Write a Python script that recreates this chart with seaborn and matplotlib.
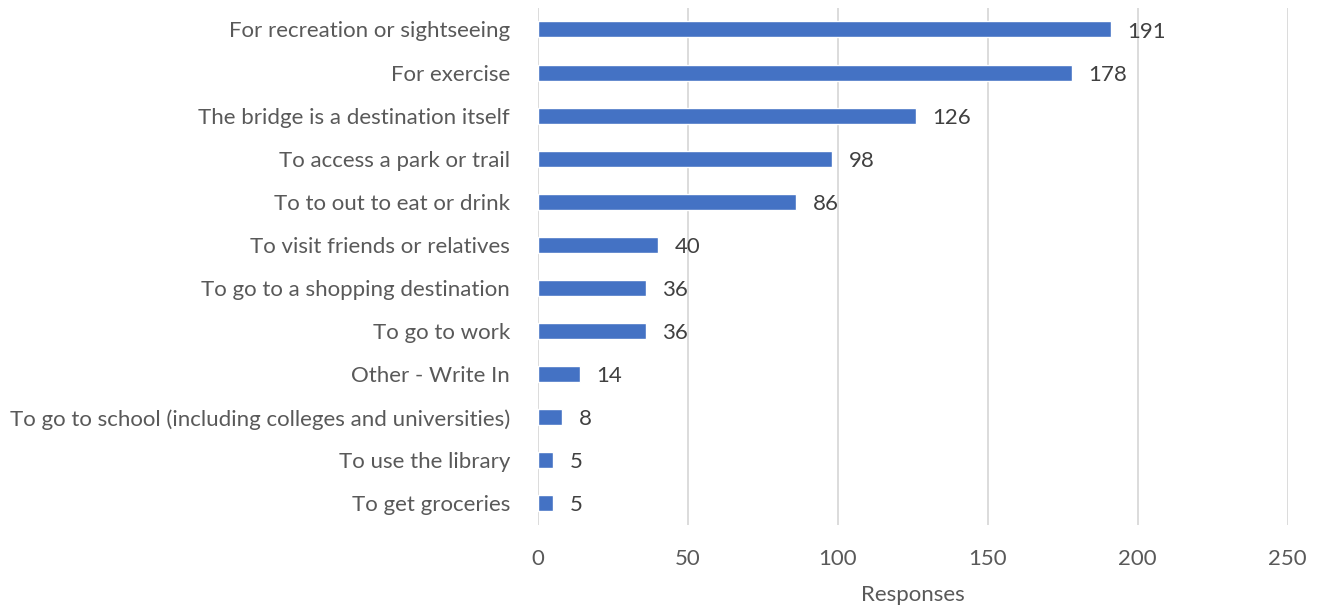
import matplotlib
matplotlib.use("Agg")
import matplotlib.pyplot as plt
import seaborn as sns
import pandas as pd

categories = [
    "For recreation or sightseeing",
    "For exercise",
    "The bridge is a destination itself",
    "To access a park or trail",
    "To to out to eat or drink",
    "To visit friends or relatives",
    "To go to a shopping destination",
    "To go to work",
    "Other - Write In",
    "To go to school (including colleges and universities)",
    "To use the library",
    "To get groceries",
]
responses = [191, 178, 126, 98, 86, 40, 36, 36, 14, 8, 5, 5]
x_ticks = [0, 50, 100, 150, 200, 250]

df = pd.DataFrame({"reason": categories, "responses": responses})

sns.set_theme(style="white")
plt.rcParams["font.family"] = ["Lato", "DejaVu Sans"]

FS = 16

fig = plt.figure(figsize=(13.18, 6.09), dpi=100)
ax = fig.add_axes([0.408, 0.138, 0.569, 0.849])

sns.barplot(data=df, x="responses", y="reason", color="#4472C4",
            saturation=1, width=0.37, ax=ax, zorder=3)

ax.set_xlim(0, 250)
ax.set_ylim(len(categories) - 0.5, -0.5)
ax.set_xticks(x_ticks)
ax.grid(axis="x", color="#D9D9D9", linewidth=1.3, zorder=0)
ax.set_axisbelow(True)
for s in ax.spines.values():
    s.set_visible(False)
ax.tick_params(axis="both", length=0, labelsize=FS, labelcolor="#595959")
ax.tick_params(axis="x", pad=17)
ax.tick_params(axis="y", pad=20)
ax.set_ylabel("")
ax.set_xlabel("Responses", fontsize=FS, color="#595959", labelpad=12)

# value labels just right of each bar end
for patch, val in zip(ax.patches, responses):
    y = patch.get_y() + patch.get_height() / 2
    ax.annotate(str(val), xy=(patch.get_width(), y), xytext=(12, -1.5),
                textcoords="offset points", ha="left", va="center",
                fontsize=FS, color="#404040")

fig.savefig("out.png", dpi=100)
